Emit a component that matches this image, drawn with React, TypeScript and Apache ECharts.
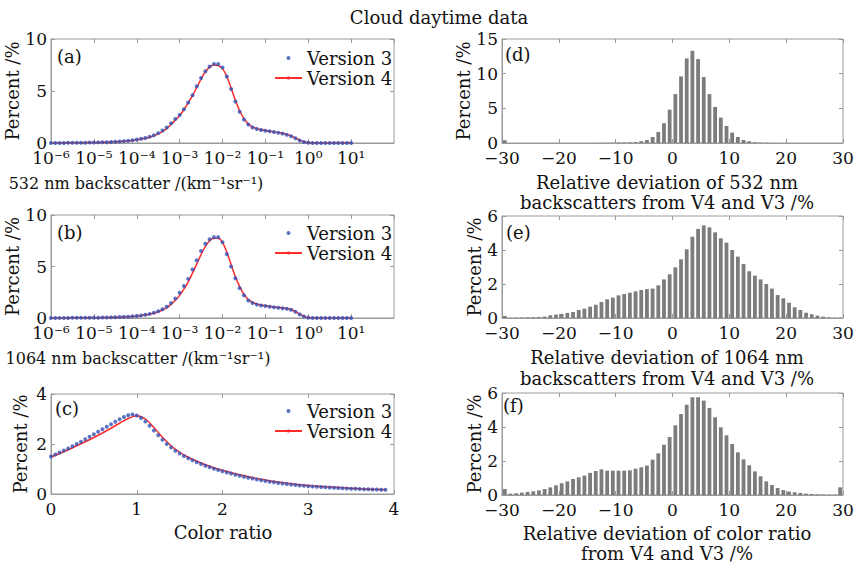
import { useEffect, useRef } from 'react';
import * as echarts from 'echarts';

const FONT = 'DejaVu Serif';
const TXT = '#111';
const GRID_BORDER = '#9a9a9a';
const DOT_COLOR = '#3150b5';
const LINE_COLOR = '#ff2a2a';
const BAR_COLOR = '#7c7c7c';

// ---------- panel (a)/(b): backscatter distributions, log10 bins from 1e-6 to 1e1, step 0.1 decade ----------
const backscatterBinExp: number[] = Array.from({ length: 71 }, (_, i) => -6 + i * 0.1);
const logTickLabels = ['10⁻⁶', '10⁻⁵', '10⁻⁴', '10⁻³', '10⁻²', '10⁻¹', '10⁰', '10¹', ''];

const bs532V3 = [
  0.01, 0.01, 0.01, 0.01, 0.02, 0.02, 0.02, 0.03, 0.03, 0.04,
  0.05, 0.06, 0.07, 0.08, 0.1, 0.12, 0.15, 0.18, 0.22, 0.27,
  0.33, 0.4, 0.49, 0.6, 0.75, 0.95, 1.2, 1.5, 1.9, 2.3,
  2.7, 3.25, 3.9, 4.6, 5.45, 6.25, 6.9, 7.35, 7.6, 7.6,
  7.25, 6.4, 5.2, 4.0, 3.0, 2.25, 1.78, 1.5, 1.35, 1.25,
  1.18, 1.12, 1.05, 0.98, 0.9, 0.8, 0.65, 0.45, 0.25, 0.1,
  0.03, 0.01, 0.01, 0.01, 0.01, 0.01, 0.01, 0.01, 0.01, 0.01, 0.01,
];
const bs532V4 = [
  0.01, 0.01, 0.01, 0.01, 0.02, 0.02, 0.02, 0.03, 0.03, 0.04,
  0.05, 0.06, 0.07, 0.08, 0.09, 0.11, 0.14, 0.17, 0.21, 0.25,
  0.31, 0.38, 0.46, 0.56, 0.7, 0.88, 1.1, 1.4, 1.78, 2.2,
  2.65, 3.2, 3.85, 4.55, 5.35, 6.15, 6.85, 7.3, 7.5, 7.45,
  7.15, 6.4, 5.3, 4.1, 3.1, 2.35, 1.85, 1.55, 1.38, 1.28,
  1.2, 1.13, 1.07, 1.0, 0.93, 0.83, 0.68, 0.48, 0.28, 0.12,
  0.04, 0.02, 0.01, 0.01, 0.01, 0.01, 0.01, 0.01, 0.01, 0.01, 0.01,
];
const bs1064V3 = [
  0.01, 0.01, 0.01, 0.01, 0.01, 0.02, 0.02, 0.02, 0.02, 0.03,
  0.03, 0.03, 0.04, 0.05, 0.06, 0.07, 0.09, 0.11, 0.13, 0.16,
  0.2, 0.25, 0.31, 0.4, 0.5, 0.65, 0.85, 1.1, 1.45, 1.9,
  2.45, 3.1, 3.8, 4.7, 5.6, 6.5, 7.2, 7.65, 7.85, 7.85,
  7.35, 6.2, 5.0, 3.85, 2.9, 2.2, 1.7, 1.45, 1.3, 1.22,
  1.16, 1.1, 1.05, 1.0, 0.95, 0.9, 0.8, 0.6, 0.35, 0.15,
  0.03, 0.01, 0.01, 0.01, 0.01, 0.01, 0.01, 0.01, 0.01, 0.01, 0.01,
];
const bs1064V4 = [
  0.01, 0.01, 0.01, 0.01, 0.01, 0.02, 0.02, 0.02, 0.02, 0.03,
  0.03, 0.03, 0.04, 0.05, 0.06, 0.07, 0.08, 0.1, 0.12, 0.15,
  0.19, 0.23, 0.29, 0.37, 0.46, 0.6, 0.78, 1.0, 1.32, 1.72,
  2.2, 2.8, 3.5, 4.35, 5.25, 6.15, 6.95, 7.5, 7.75, 7.75,
  7.35, 6.4, 5.2, 4.0, 3.05, 2.3, 1.8, 1.52, 1.36, 1.26,
  1.19, 1.13, 1.08, 1.03, 0.98, 0.92, 0.82, 0.62, 0.37, 0.16,
  0.04, 0.02, 0.01, 0.01, 0.01, 0.01, 0.01, 0.01, 0.01, 0.01, 0.01,
];

// ---------- panel (c): colour ratio, bins of 0.05 from 0 to 3.9 ----------
const colorRatioBins: number[] = Array.from({ length: 79 }, (_, i) => +(i * 0.05).toFixed(2));
const crV3 = [
  1.5, 1.58, 1.66, 1.74, 1.82, 1.91, 2.0, 2.09, 2.19, 2.29,
  2.39, 2.49, 2.59, 2.69, 2.79, 2.89, 2.99, 3.08, 3.15, 3.18,
  3.14, 3.04, 2.9, 2.73, 2.54, 2.35, 2.17, 2.0, 1.86, 1.73,
  1.62, 1.52, 1.43, 1.35, 1.27, 1.2, 1.13, 1.07, 1.01, 0.96,
  0.91, 0.86, 0.82, 0.77, 0.73, 0.69, 0.65, 0.62, 0.58, 0.55,
  0.52, 0.49, 0.47, 0.44, 0.42, 0.4, 0.38, 0.36, 0.34, 0.33,
  0.31, 0.3, 0.29, 0.28, 0.27, 0.26, 0.25, 0.24, 0.23, 0.22,
  0.21, 0.21, 0.2, 0.19, 0.19, 0.18, 0.18, 0.17, 0.17,
];
const crLineX = [0, 0.1, 0.2, 0.3, 0.4, 0.5, 0.6, 0.7, 0.8, 0.9, 1.0, 1.1, 1.2, 1.3, 1.4, 1.5, 1.6, 1.7, 1.8, 1.9, 2.0, 2.2, 2.4, 2.6, 2.8, 3.0, 3.2, 3.4, 3.6, 3.8, 3.9];
const crV4 = [1.48, 1.62, 1.77, 1.93, 2.09, 2.26, 2.44, 2.63, 2.83, 3.02, 3.13, 3.0, 2.66, 2.27, 1.93, 1.67, 1.47, 1.31, 1.17, 1.05, 0.95, 0.77, 0.62, 0.5, 0.41, 0.34, 0.29, 0.25, 0.21, 0.18, 0.17];

// ---------- panels (d)(e)(f): relative deviation histograms, 1 % bins from -30 to 30 ----------
const devBinCenters: number[] = Array.from({ length: 60 }, (_, i) => -29.5 + i);
const dev532 = [
  0.4, 0, 0, 0, 0, 0, 0, 0, 0, 0,
  0, 0, 0, 0, 0, 0, 0.01, 0.02, 0.03, 0.04,
  0.06, 0.08, 0.1, 0.15, 0.25, 0.43, 0.87, 1.6, 2.85, 4.8,
  7.05, 9.6, 12.2, 13.3, 12.1, 9.5, 7.05, 5.2, 3.67, 2.46,
  1.5, 0.87, 0.43, 0.25, 0.12, 0.06, 0.03, 0.01, 0, 0,
  0, 0, 0, 0, 0, 0, 0, 0, 0, 0,
];
const dev1064 = [
  0.12, 0.02, 0.02, 0.03, 0.04, 0.05, 0.06, 0.08, 0.16, 0.2,
  0.24, 0.3, 0.35, 0.47, 0.55, 0.67, 0.78, 0.94, 1.1, 1.2,
  1.33, 1.41, 1.49, 1.57, 1.65, 1.7, 1.73, 1.92, 2.27, 2.57,
  2.98, 3.45, 4.04, 4.78, 5.24, 5.45, 5.33, 5.04, 4.69, 4.43,
  4.0, 3.61, 3.18, 2.75, 2.49, 2.27, 2.0, 1.73, 1.35, 1.16,
  0.9, 0.63, 0.47, 0.31, 0.22, 0.14, 0.08, 0.04, 0.02, 0.02,
];
const devCR = [
  0.35, 0.08, 0.1, 0.14, 0.18, 0.22, 0.27, 0.35, 0.45, 0.57,
  0.69, 0.8, 0.94, 1.04, 1.14, 1.3, 1.41, 1.51, 1.43, 1.43,
  1.43, 1.43, 1.45, 1.55, 1.63, 1.73, 2.08, 2.45, 2.96, 3.41,
  4.1, 4.76, 5.31, 5.75, 5.75, 5.55, 5.12, 4.57, 3.98, 3.51,
  3.0, 2.51, 2.1, 1.75, 1.39, 1.1, 0.8, 0.59, 0.41, 0.29,
  0.2, 0.16, 0.12, 0.08, 0.06, 0.04, 0.03, 0.02, 0.02, 0.45,
];

const panelLabels = ['(a)', '(b)', '(c)', '(d)', '(e)', '(f)'];
const legendNames = ['Version 3', 'Version 4'];

const grids = [
  { left: 51, top: 39, width: 343, height: 104 },
  { left: 51, top: 215, width: 343, height: 103 },
  { left: 51, top: 394, width: 343, height: 100 },
  { left: 502, top: 39, width: 341, height: 104 },
  { left: 502, top: 216, width: 341, height: 102 },
  { left: 502, top: 393, width: 341, height: 102 },
];

const minus = (v: number) => (v < 0 ? '\u2212' + Math.abs(v) : String(v));

function buildOption() {
  const tickStyle = { show: true, inside: true, length: 4, lineStyle: { color: GRID_BORDER } };
  const labelStyle = { fontFamily: FONT, fontSize: 17, color: TXT };
  const logFmt = (v: number) => logTickLabels[Math.round(Math.log10(v)) + 6] ?? '';

  const xDefs: any[] = [
    { type: 'log', min: 1e-6, max: 1e2, formatter: logFmt },
    { type: 'log', min: 1e-6, max: 1e2, formatter: logFmt },
    { type: 'value', min: 0, max: 4, interval: 1, formatter: (v: number) => String(v) },
    { type: 'value', min: -30, max: 30, interval: 10, formatter: minus },
    { type: 'value', min: -30, max: 30, interval: 10, formatter: minus },
    { type: 'value', min: -30, max: 30, interval: 10, formatter: minus },
  ];
  const yDefs = [
    { min: 0, max: 10, interval: 5 },
    { min: 0, max: 10, interval: 5 },
    { min: 0, max: 4, interval: 2 },
    { min: 0, max: 15, interval: 5 },
    { min: 0, max: 6, interval: 2 },
    { min: 0, max: 6, interval: 2 },
  ];

  const xAxis: any[] = [];
  const yAxis: any[] = [];
  xDefs.forEach((d, i) => {
    const base: any = { gridIndex: i, type: d.type, min: d.min, max: d.max, splitLine: { show: false } };
    if (d.type === 'log') base.logBase = 10;
    if (d.interval) base.interval = d.interval;
    xAxis.push({
      ...base,
      position: 'bottom',
      axisLine: { show: true, onZero: false, lineStyle: { color: GRID_BORDER } },
      axisTick: tickStyle,
      axisLabel: { ...labelStyle, margin: 8, lineHeight: 14, formatter: d.formatter, showMaxLabel: d.type !== 'log' },
    });
    xAxis.push({
      ...base,
      position: 'top',
      axisLine: { show: false, onZero: false },
      axisTick: tickStyle,
      axisLabel: { show: false },
    });
  });
  yDefs.forEach((d, i) => {
    const base: any = { gridIndex: i, type: 'value', min: d.min, max: d.max, interval: d.interval, splitLine: { show: false } };
    yAxis.push({
      ...base,
      position: 'left',
      name: 'Percent /%',
      nameLocation: 'middle',
      nameGap: i < 3 ? 22 : 17,
      nameTextStyle: { fontFamily: FONT, fontSize: 18, color: TXT },
      axisLine: { show: true, onZero: false, lineStyle: { color: GRID_BORDER } },
      axisTick: tickStyle,
      axisLabel: { ...labelStyle, margin: 4, lineHeight: 12 },
    });
    yAxis.push({
      ...base,
      position: 'right',
      axisLine: { show: false, onZero: false },
      axisTick: tickStyle,
      axisLabel: { show: false },
    });
  });

  const scatter = (name: string, g: number, data: number[][]) => ({
    name, type: 'scatter', xAxisIndex: g * 2, yAxisIndex: g * 2, data,
    symbol: 'circle', symbolSize: 4, itemStyle: { color: DOT_COLOR }, z: 3,
  });
  const line = (name: string, g: number, data: number[][]) => ({
    name, type: 'line', xAxisIndex: g * 2, yAxisIndex: g * 2, data,
    smooth: 0.3, symbol: 'none', showSymbol: false,
    lineStyle: { color: LINE_COLOR, width: 1.5 }, itemStyle: { color: LINE_COLOR }, z: 2,
  });
  const bars = (g: number, vals: number[]) => ({
    name: 'hist' + g, type: 'bar', xAxisIndex: g * 2, yAxisIndex: g * 2,
    data: devBinCenters.map((c, i) => [c, vals[i]]),
    barWidth: 3.8, itemStyle: { color: BAR_COLOR },
  });

  const series = [
    line(legendNames[1], 0, backscatterBinExp.map((e, i) => [Math.pow(10, e), bs532V4[i]])),
    scatter(legendNames[0], 0, backscatterBinExp.map((e, i) => [Math.pow(10, e), bs532V3[i]])),
    line(legendNames[1], 1, backscatterBinExp.map((e, i) => [Math.pow(10, e), bs1064V4[i]])),
    scatter(legendNames[0], 1, backscatterBinExp.map((e, i) => [Math.pow(10, e), bs1064V3[i]])),
    line(legendNames[1], 2, crLineX.map((x, i) => [x, crV4[i]])),
    scatter(legendNames[0], 2, colorRatioBins.map((x, i) => [x, crV3[i]])),
    bars(3, dev532),
    bars(4, dev1064),
    bars(5, devCR),
  ];

  const legendTops = [44, 219, 397];
  const legend = legendTops.map((top) => ({
    data: legendNames,
    orient: 'vertical',
    left: 269,
    top,
    itemGap: 2,
    itemWidth: 27,
    itemHeight: 4,
    selectedMode: false,
    textStyle: { fontFamily: FONT, fontSize: 18, color: TXT },
  }));

  const t = (text: string, x: number, y: number, align = 'center', extra: any = {}) => ({
    type: 'text', x, y, silent: true,
    style: { text, fontFamily: FONT, fontSize: 18, fill: TXT, align, verticalAlign: 'middle', ...extra },
  });
  const labelPos = [[57, 56], [57, 232], [55, 408], [505, 54], [506, 232], [503, 405]];
  const graphic = [
    t('Cloud daytime data', 439, 17),
    ...panelLabels.map((l, i) => t(l, labelPos[i][0], labelPos[i][1], 'left')),
    t('532 nm backscatter /(km\u207B\u00B9sr\u207B\u00B9)', 136, 183, 'center', { fontSize: 16 }),
    t('1064 nm backscatter /(km\u207B\u00B9sr\u207B\u00B9)', 138, 358, 'center', { fontSize: 16 }),
    t('Color ratio', 223, 532),
    t('Relative deviation of 532 nm\nbackscatters from V4 and V3 /%', 667, 192, 'center', { lineHeight: 20 }),
    t('Relative deviation of 1064 nm\nbackscatters from V4 and V3 /%', 667, 368, 'center', { lineHeight: 21 }),
    t('Relative deviation of color ratio\nfrom V4 and V3 /%', 667, 543, 'center', { lineHeight: 20 }),
  ];

  return {
    animation: false,
    backgroundColor: '#ffffff',
    textStyle: { fontFamily: FONT },
    grid: grids.map((g) => ({ ...g, show: true, borderColor: GRID_BORDER, borderWidth: 1, containLabel: false })),
    xAxis,
    yAxis,
    legend,
    series,
    graphic,
  };
}

export default function App() {
  const ref = useRef<HTMLDivElement>(null);
  useEffect(() => {
    if (!ref.current) return;
    const chart = echarts.init(ref.current, null, { renderer: 'svg' });
    chart.setOption(buildOption() as any);
    return () => chart.dispose();
  }, []);
  return (
    <div
      ref={ref}
      style={{ position: 'absolute', left: 0, top: 0, width: 859, height: 563, background: '#fff' }}
    />
  );
}
